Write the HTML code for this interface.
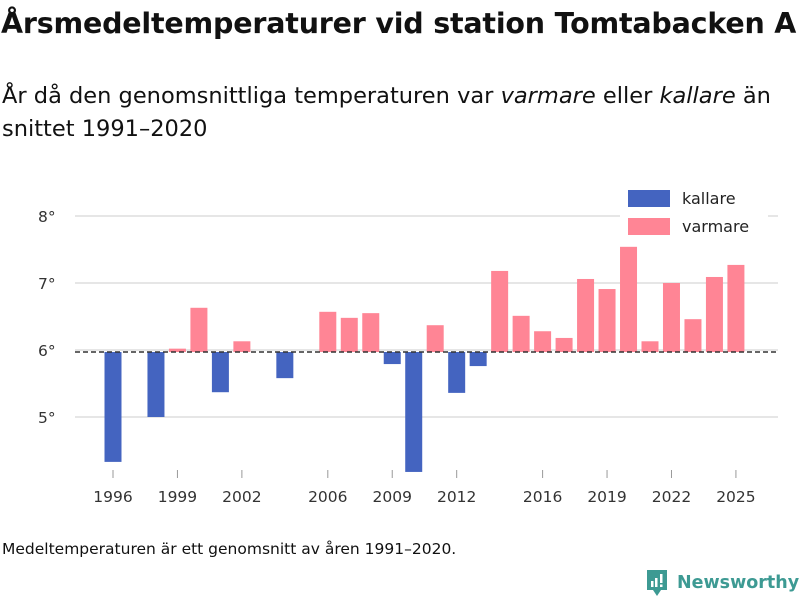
<!DOCTYPE html>
<html><head><meta charset="utf-8"><style>
body{margin:0;width:800px;height:600px;background:#fff;font-family:"DejaVu Sans","Liberation Sans",sans-serif;color:#111;overflow:hidden;position:relative}
.t{position:absolute;left:1px;top:7px;font-size:28.5px;font-weight:bold;margin:0;letter-spacing:-0.2px;white-space:nowrap}
.s{position:absolute;left:2px;top:80px;font-size:22.5px;line-height:33px;width:790px;white-space:nowrap}
.f{position:absolute;left:2px;top:540px;font-size:15.5px}
.logo{position:absolute;left:645px;top:568px;display:flex;align-items:center;color:#3d9a93;font-size:17.5px;font-weight:bold}
</style></head><body>
<h1 class="t">Årsmedeltemperaturer vid station Tomtabacken A</h1>
<div class="s">År då den genomsnittliga temperaturen var <i>varmare</i> eller <i>kallare</i> än<br>snittet 1991–2020</div>
<svg id="c" width="800" height="600" style="position:absolute;left:0;top:0"></svg>
<div class="f">Medeltemperaturen är ett genomsnitt av åren 1991–2020.</div>
<div class="logo"><svg width="24" height="30" viewBox="0 0 24 30"><path d="M2 2h20v20h-6l-4 6-4-6H2z" fill="#3d9a93"/><rect x="6" y="13" width="2.5" height="6" fill="#fff"/><rect x="10" y="10" width="2.5" height="9" fill="#fff"/><rect x="15" y="6" width="2.5" height="9" fill="#fff"/><rect x="15" y="16.5" width="2.5" height="2.5" fill="#fff"/></svg><span style="margin-left:8px">Newsworthy</span></div>
<script>
const years=[1996,1998,1999,2000,2001,2002,2004,2006,2007,2008,2009,2010,2011,2012,2013,2014,2015,2016,2017,2018,2019,2020,2021,2022,2023,2024,2025];
const temps=[4.33,5.0,6.02,6.63,5.37,6.13,5.58,6.57,6.48,6.55,5.79,4.18,6.37,5.36,5.76,7.18,6.51,6.28,6.18,7.06,6.91,7.54,6.13,7.0,6.46,7.09,7.27];
const baseline=5.97;
const yTicks=[5,6,7,8];
const xTicks=[1996,1999,2002,2006,2009,2012,2016,2019,2022,2025];
const NS="http://www.w3.org/2000/svg",svg=document.getElementById('c');
const x=v=>113+(v-1996)*21.48, y=v=>350-(v-6)*67;
function el(t,a,txt){const e=document.createElementNS(NS,t);for(const k in a)e.setAttribute(k,a[k]);if(txt!=null)e.textContent=txt;svg.appendChild(e);return e;}
yTicks.forEach(v=>{
 const g=el('line',{x1:75,x2:778,y1:y(v),y2:y(v),stroke:'#ddd','stroke-width':1.5});
 
 
 const t=el('text',{x:38,y:y(v)+6,'font-size':15.5,fill:'#333'},v+'°');
 
 
});
years.forEach((yr,i)=>{
 const v=temps[i],top=y(Math.max(v,baseline)),bot=y(Math.min(v,baseline));
 const r=el('rect',{x:x(yr)-8.5,y:top,width:17,height:Math.max(bot-top,0.5),fill:v>=baseline?'#ff8595':'#4464c0'});
 
 
});
const bl=el('line',{x1:75,x2:778,y1:y(baseline),y2:y(baseline),stroke:'#333','stroke-width':1.5,'stroke-dasharray':'5,3'});


xTicks.forEach(v=>{
 const l=el('line',{x1:x(v),x2:x(v),y1:470,y2:478,stroke:'#999','stroke-width':1});
 
 
 const t=el('text',{x:x(v),y:502,'font-size':15.5,fill:'#333','text-anchor':'middle'},v);
 
 
});
const lb=el('rect',{x:620,y:183,width:148,height:60,fill:'#fff'});


[['kallare','#4464c0',190],['varmare','#ff8595',218]].forEach(([n,c,yy])=>{
 const r=el('rect',{x:628,y:yy,width:42,height:17,fill:c});
 
 
 const t=el('text',{x:682,y:yy+14,'font-size':16,fill:'#222'},n);
 
 
});
</script>
</body></html>
